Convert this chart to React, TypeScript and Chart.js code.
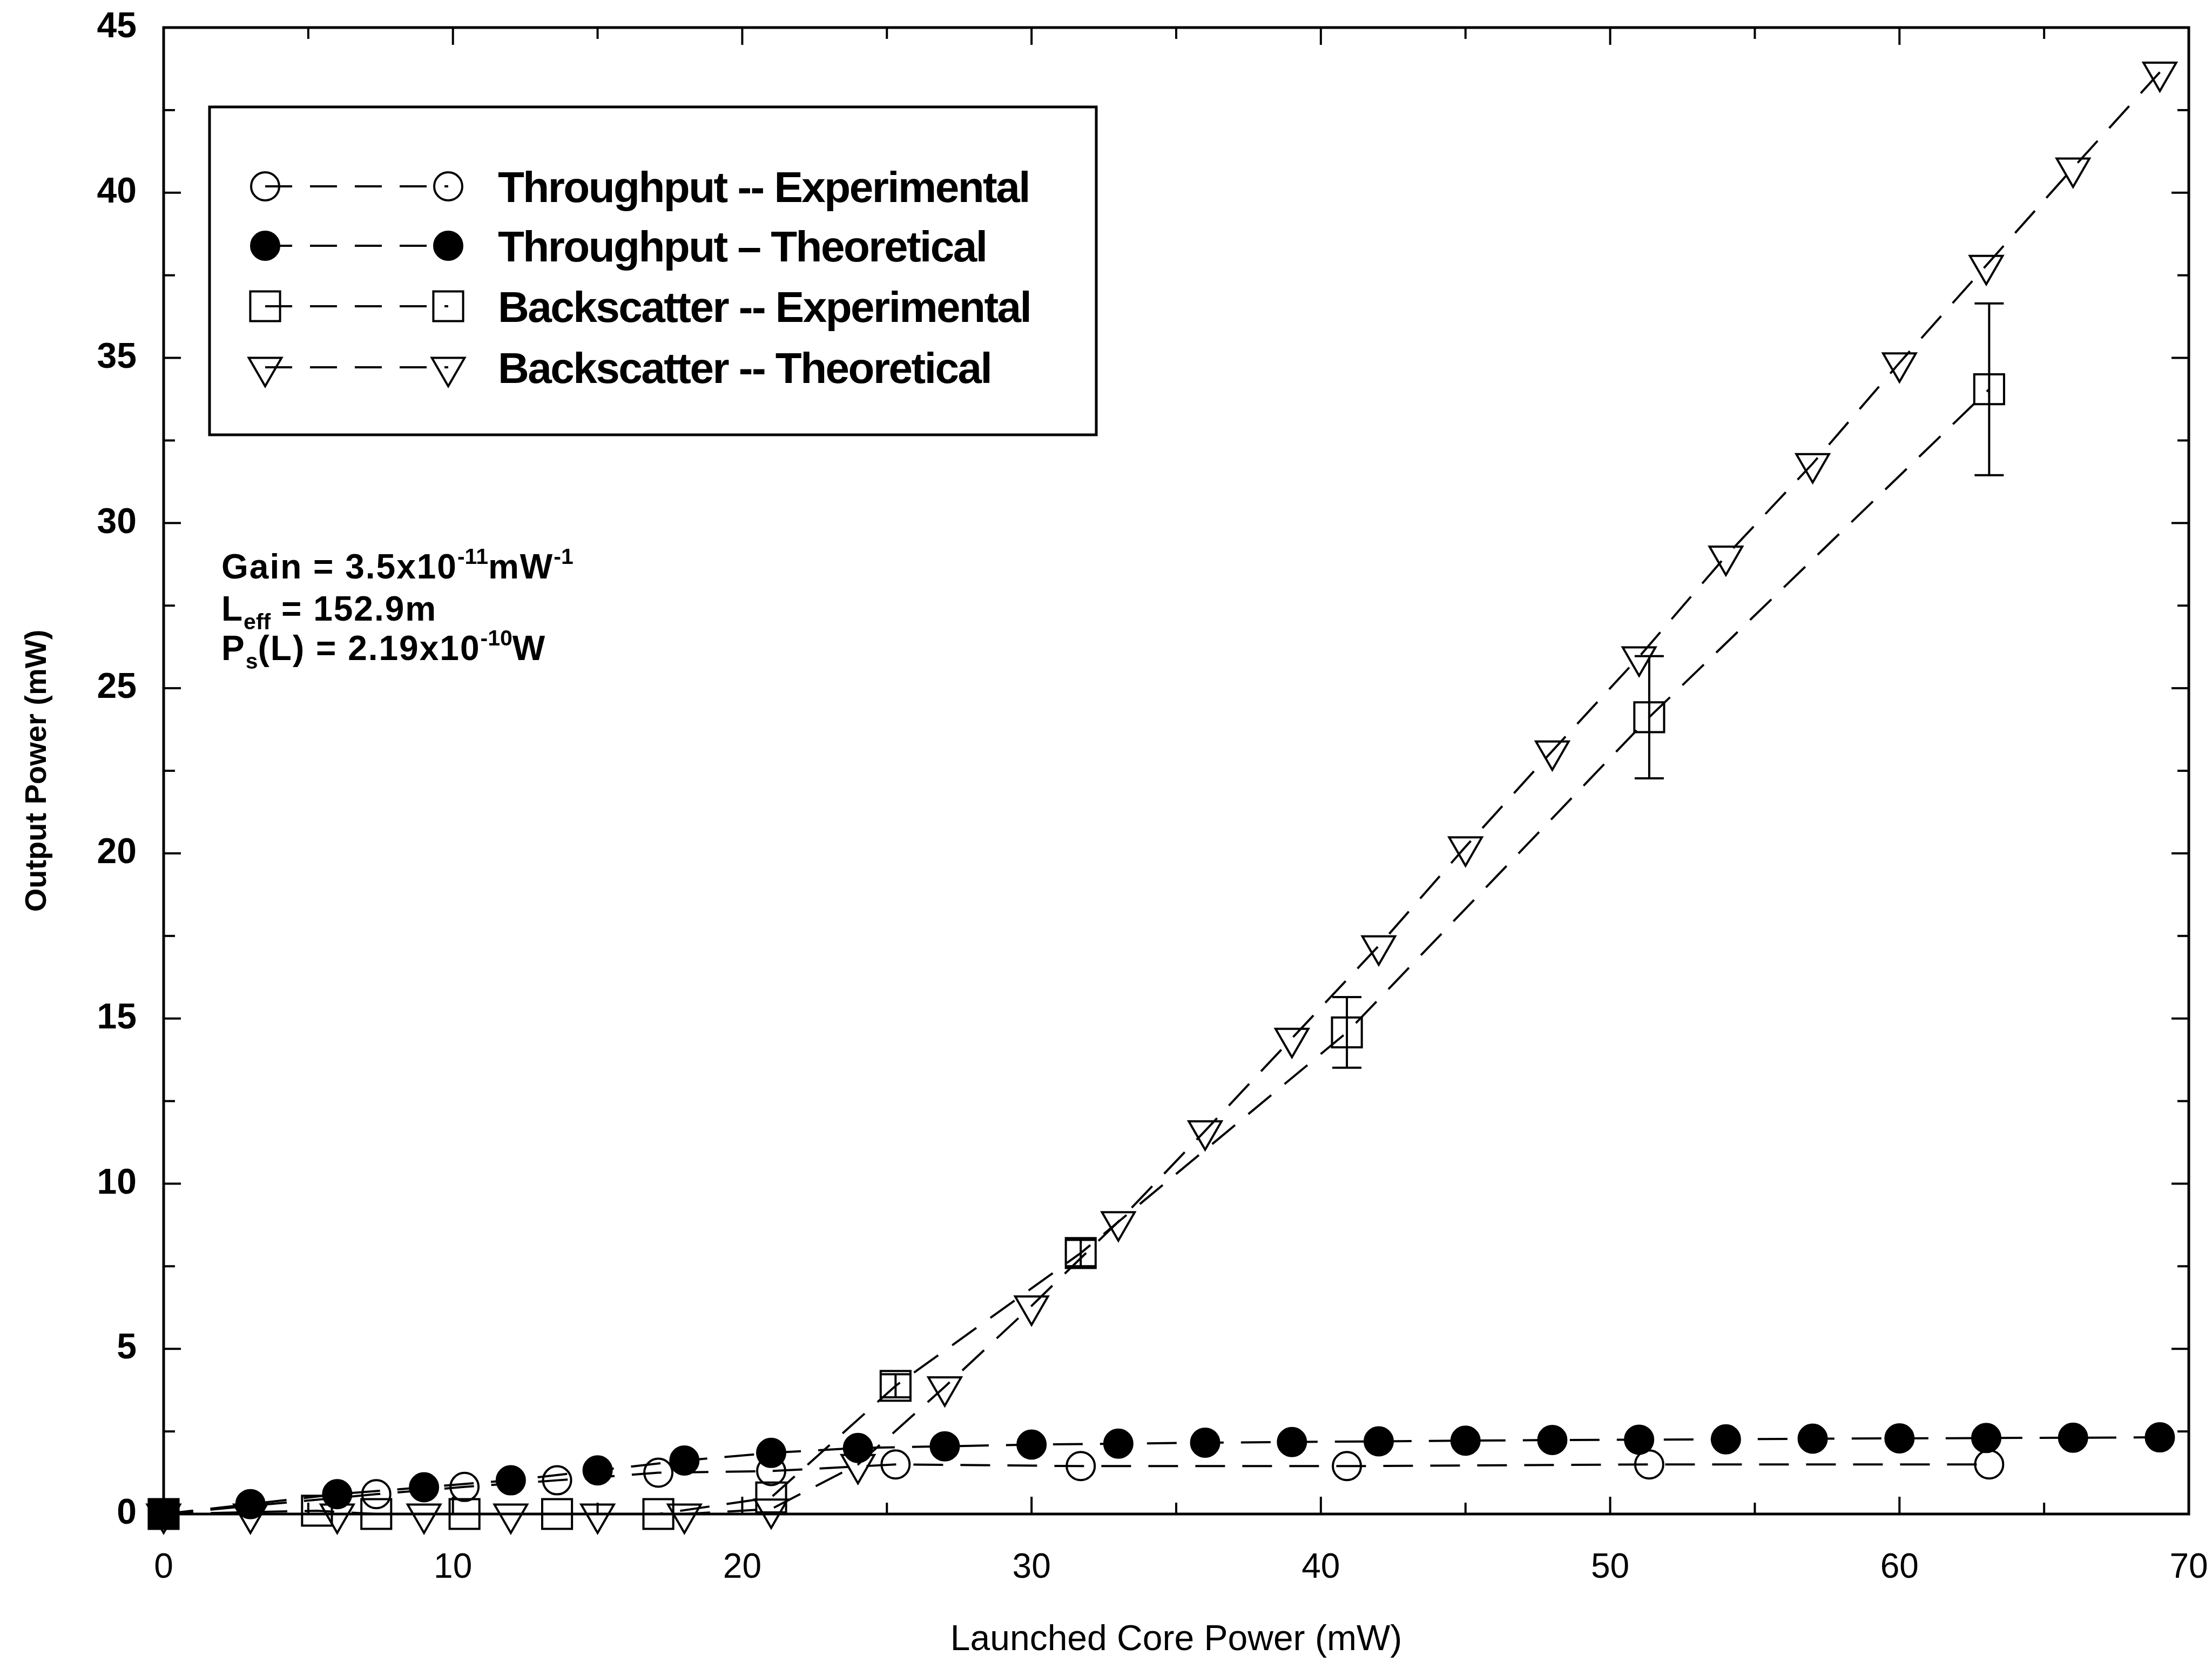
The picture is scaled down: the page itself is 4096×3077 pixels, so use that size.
import React, { useEffect, useRef } from 'react';
import { Chart, registerables } from 'chart.js';

Chart.register(...registerables);

const W = 4096;
const H = 3077;
const FONT = "'Liberation Sans', Arial, Helvetica, sans-serif";

// ---- data ----
const xTheory = [0, 3, 6, 9, 12, 15, 18, 21, 24, 27, 30, 33, 36, 39, 42, 45, 48, 51, 54, 57, 60, 63, 66, 69];
const throughputTheory = [0, 0.3, 0.6, 0.81, 1.02, 1.32, 1.62, 1.85, 2.0, 2.05, 2.1, 2.13, 2.16, 2.18, 2.2, 2.22, 2.24, 2.25, 2.26, 2.28, 2.29, 2.3, 2.31, 2.32];
const backscatterTheory = [0, 0, 0, 0, 0, 0, 0, 0.15, 1.5, 3.85, 6.3, 8.85, 11.6, 14.4, 17.2, 20.2, 23.1, 25.95, 29.0, 31.8, 34.85, 37.8, 40.75, 43.65];

const xThroughputExp = [0, 7.35, 10.4, 13.6, 17.1, 21.0, 25.3, 31.7, 40.9, 51.35, 63.1];
const throughputExp = [0, 0.6, 0.82, 1.02, 1.25, 1.3, 1.5, 1.45, 1.45, 1.5, 1.5];

const xBackscatterExp = [0, 5.3, 7.35, 10.4, 13.6, 17.1, 21.0, 25.3, 31.7, 40.9, 51.35, 63.1];
const backscatterExp = [0, 0.1, 0, 0, 0, 0, 0.5, 3.88, 7.9, 14.58, 24.12, 34.05];
const backscatterErr = [0, 0, 0, 0, 0, 0, 0, 0.35, 0.4, 1.07, 1.85, 2.6];

const xTickValues = [0, 10, 20, 30, 40, 50, 60, 70];
const yTickValues = [0, 5, 10, 15, 20, 25, 30, 35, 40, 45];
const xMinorTicks = [5, 15, 25, 35, 45, 55, 65];
const yMinorTicks = [2.5, 7.5, 12.5, 17.5, 22.5, 27.5, 32.5, 37.5, 42.5];

const legendLabels = [
  'Throughput -- Experimental',
  'Throughput \u2013 Theoretical',
  'Backscatter -- Experimental',
  'Backscatter -- Theoretical',
];
const legendMarkers = ['circle', 'filled', 'rect', 'tri'];

const xTitle = 'Launched Core Power (mW)';
const yTitle = 'Output Power (mW)';

type Seg = { t: string; sup?: boolean; sub?: boolean };
const noteLines: Seg[][] = [
  [{ t: 'Gain = 3.5x10' }, { t: '-11', sup: true }, { t: 'mW' }, { t: '-1', sup: true }],
  [{ t: 'L' }, { t: 'eff', sub: true }, { t: ' = 152.9m' }],
  [{ t: 'P' }, { t: 's', sub: true }, { t: '(L) = 2.19x10' }, { t: '-10', sup: true }, { t: 'W' }],
];

// ---- styles ----
const DASH = [55, 32];
const LINE_W = 4;
const R_CIRCLE = 26;
const R_RECT = 39;
const R_TRI = 35;

const pts = (xs: number[], ys: number[]) => xs.map((x, i) => ({ x, y: ys[i] }));

function markerPath(ctx: CanvasRenderingContext2D, kind: string, x: number, y: number) {
  ctx.beginPath();
  if (kind === 'circle' || kind === 'filled') {
    ctx.arc(x, y, R_CIRCLE, 0, Math.PI * 2);
  } else if (kind === 'rect') {
    const s = R_RECT * Math.SQRT1_2;
    ctx.rect(x - s, y - s, 2 * s, 2 * s);
  } else {
    ctx.moveTo(x, y + R_TRI);
    ctx.lineTo(x - 0.866 * R_TRI, y - 0.5 * R_TRI);
    ctx.lineTo(x + 0.866 * R_TRI, y - 0.5 * R_TRI);
    ctx.closePath();
  }
}

const bgPlugin = {
  id: 'bg',
  beforeDraw(chart: any) {
    const ctx = chart.ctx;
    ctx.save();
    ctx.fillStyle = '#fff';
    ctx.fillRect(0, 0, chart.width, chart.height);
    ctx.restore();
  },
};

const framePlugin = {
  id: 'frame',
  beforeDatasetsDraw(chart: any) {
    const { ctx, chartArea: a, scales } = chart;
    ctx.save();
    ctx.strokeStyle = '#000';
    ctx.lineWidth = 5;
    ctx.strokeRect(a.left, a.top, a.right - a.left, a.bottom - a.top);
    ctx.lineWidth = 4;
    const seg = (x1: number, y1: number, x2: number, y2: number) => {
      ctx.beginPath();
      ctx.moveTo(x1, y1);
      ctx.lineTo(x2, y2);
      ctx.stroke();
    };
    const xt = (vals: number[], len: number) =>
      vals.forEach((v) => {
        const p = scales.x.getPixelForValue(v);
        seg(p, a.bottom, p, a.bottom - len);
        seg(p, a.top, p, a.top + len);
      });
    const yt = (vals: number[], len: number) =>
      vals.forEach((v) => {
        const p = scales.y.getPixelForValue(v);
        seg(a.left, p, a.left + len, p);
        seg(a.right, p, a.right - len, p);
      });
    xt(xTickValues, 32);
    xt(xMinorTicks, 21);
    yt(yTickValues, 32);
    yt(yMinorTicks, 21);
    ctx.restore();
  },
};

const errorBarPlugin = {
  id: 'errbars',
  afterDatasetsDraw(chart: any) {
    const { ctx, scales } = chart;
    ctx.save();
    ctx.strokeStyle = '#000';
    ctx.lineWidth = 4;
    const cap = 27;
    xBackscatterExp.forEach((xv, i) => {
      const e = backscatterErr[i];
      if (!e) return;
      const px = scales.x.getPixelForValue(xv);
      const y1 = scales.y.getPixelForValue(backscatterExp[i] + e);
      const y2 = scales.y.getPixelForValue(backscatterExp[i] - e);
      ctx.beginPath();
      ctx.moveTo(px, y1);
      ctx.lineTo(px, y2);
      ctx.moveTo(px - cap, y1);
      ctx.lineTo(px + cap, y1);
      ctx.moveTo(px - cap, y2);
      ctx.lineTo(px + cap, y2);
      ctx.stroke();
    });
    ctx.restore();
  },
};

const legendPlugin = {
  id: 'customLegend',
  afterDraw(chart: any) {
    const ctx = chart.ctx;
    const L = { left: 388, top: 198, right: 2030, bottom: 805 };
    const rows = [345, 455, 567, 680];
    const m1 = 491;
    const m2 = 830;
    const tx = 922;
    ctx.save();
    ctx.fillStyle = '#fff';
    ctx.fillRect(L.left, L.top, L.right - L.left, L.bottom - L.top);
    ctx.strokeStyle = '#000';
    ctx.lineWidth = 5;
    ctx.strokeRect(L.left, L.top, L.right - L.left, L.bottom - L.top);
    rows.forEach((ry, i) => {
      ctx.setLineDash([50, 33]);
      ctx.lineDashOffset = 0;
      ctx.lineWidth = LINE_W;
      ctx.beginPath();
      ctx.moveTo(m1, ry);
      ctx.lineTo(m2, ry);
      ctx.stroke();
      ctx.setLineDash([]);
      [m1, m2].forEach((mx) => {
        markerPath(ctx, legendMarkers[i], mx, ry);
        if (legendMarkers[i] === 'filled') {
          ctx.fillStyle = '#000';
          ctx.fill();
        }
        ctx.lineWidth = 4;
        ctx.stroke();
      });
      ctx.fillStyle = '#000';
      ctx.font = `bold 80px ${FONT}`;
      (ctx as any).letterSpacing = '-2.5px';
      ctx.textAlign = 'left';
      ctx.textBaseline = 'alphabetic';
      ctx.fillText(legendLabels[i], tx, ry + 29);
      (ctx as any).letterSpacing = '0px';
    });
    ctx.restore();
  },
};

const notePlugin = {
  id: 'note',
  afterDraw(chart: any) {
    const ctx = chart.ctx;
    const x0 = 410;
    const baselines = [1071, 1149, 1222];
    const big = 64;
    const small = 41;
    ctx.save();
    ctx.fillStyle = '#000';
    ctx.textAlign = 'left';
    ctx.textBaseline = 'alphabetic';
    noteLines.forEach((line, li) => {
      let x = x0;
      const by = baselines[li];
      line.forEach((s) => {
        const size = s.sup || s.sub ? small : big;
        ctx.font = `bold ${size}px ${FONT}`;
        (ctx as any).letterSpacing = s.sup || s.sub ? '0px' : '2px';
        const y = s.sup ? by - 27 : s.sub ? by + 16 : by;
        ctx.fillText(s.t, x, y);
        x += ctx.measureText(s.t).width;
      });
    });
    (ctx as any).letterSpacing = '0px';
    ctx.restore();
  },
};

const lineBase = {
  showLine: true,
  borderColor: '#000',
  borderWidth: LINE_W,
  borderDash: DASH,
  fill: false,
  tension: 0,
  pointBorderColor: '#000',
  pointBorderWidth: 4,
  clip: false,
};

export default function App() {
  const ref = useRef<HTMLCanvasElement>(null);
  useEffect(() => {
    const canvas = ref.current;
    if (!canvas) return;
    const chart = new Chart(canvas, {
      type: 'scatter',
      data: {
        datasets: [
          {
            ...lineBase,
            label: legendLabels[0],
            data: pts(xThroughputExp, throughputExp),
            pointStyle: 'circle',
            pointRadius: R_CIRCLE,
            pointBackgroundColor: 'rgba(0,0,0,0)',
            backgroundColor: 'rgba(0,0,0,0)',
          },
          {
            ...lineBase,
            label: legendLabels[1],
            data: pts(xTheory, throughputTheory),
            pointStyle: 'circle',
            pointRadius: R_CIRCLE,
            pointBackgroundColor: '#000',
            backgroundColor: '#000',
          },
          {
            ...lineBase,
            label: legendLabels[2],
            data: pts(xBackscatterExp, backscatterExp),
            pointStyle: 'rect',
            pointRadius: R_RECT,
            pointBackgroundColor: xBackscatterExp.map((_, i) => (i === 0 ? '#000' : 'rgba(0,0,0,0)')),
            backgroundColor: 'rgba(0,0,0,0)',
          },
          {
            ...lineBase,
            label: legendLabels[3],
            data: pts(xTheory, backscatterTheory),
            pointStyle: 'triangle',
            pointRotation: 180,
            pointRadius: R_TRI,
            pointBackgroundColor: 'rgba(0,0,0,0)',
            backgroundColor: 'rgba(0,0,0,0)',
          },
        ] as any,
      },
      options: {
        animation: false,
        responsive: false,
        devicePixelRatio: 1,
        events: [],
        layout: { padding: { left: 0, top: 51, right: 39, bottom: 0 } },
        plugins: {
          legend: { display: false },
          tooltip: { enabled: false },
        },
        scales: {
          x: {
            type: 'linear',
            min: 0,
            max: 70,
            grid: { display: false, drawTicks: false },
            border: { display: false },
            ticks: {
              font: { family: FONT, size: 64 },
              color: '#000',
              padding: 62,
              maxRotation: 0,
              autoSkip: false,
            },
            afterBuildTicks: (s: any) => {
              s.ticks = xTickValues.map((v) => ({ value: v }));
            },
            afterFit: (s: any) => {
              s.height = H - 2803;
              s.paddingLeft = 0;
              s.paddingRight = 0;
              s.paddingTop = 0;
              s.paddingBottom = 0;
            },
            title: {
              display: true,
              text: xTitle,
              color: '#000',
              font: { family: FONT, size: 66 },
              padding: { top: 0, bottom: 1 },
            },
          },
          y: {
            type: 'linear',
            min: 0,
            max: 45,
            grid: { display: false, drawTicks: false },
            border: { display: false },
            ticks: {
              font: { family: FONT, size: 66, weight: 'bold' },
              color: '#000',
              padding: 50,
              autoSkip: false,
            },
            afterBuildTicks: (s: any) => {
              s.ticks = yTickValues.map((v) => ({ value: v }));
            },
            afterFit: (s: any) => {
              s.width = 303;
              s.paddingLeft = 0;
              s.paddingRight = 0;
              s.paddingTop = 0;
              s.paddingBottom = 0;
            },
            title: {
              display: true,
              text: yTitle,
              color: '#000',
              font: { family: FONT, size: 56, weight: 'bold' },
              padding: { top: 36, bottom: 0 },
            },
          },
        },
      } as any,
      plugins: [bgPlugin, framePlugin, errorBarPlugin, legendPlugin, notePlugin],
    });
    return () => chart.destroy();
  }, []);

  return (
    <div style={{ position: 'absolute', left: 0, top: 0, width: W, height: H, background: '#fff' }}>
      <canvas ref={ref} width={W} height={H} style={{ display: 'block', width: W, height: H }} />
    </div>
  );
}
